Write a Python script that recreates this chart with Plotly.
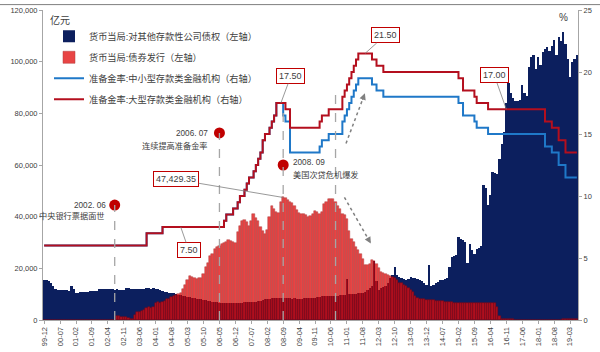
import plotly.graph_objects as go

FONT = "Liberation Sans, Noto Sans CJK SC, sans-serif"
TXT = "#404040"

# ---- categories: monthly, 1999-12 .. 2019-06 ----
months = ["99-12"]
for yy in range(2000, 2020):
    for mm in range(1, 13):
        if yy == 2019 and mm > 6:
            break
        months.append(f"{yy % 100:02d}-{mm:02d}")

tick_labels = ["99-12", "00-07", "01-02", "01-09", "02-04", "02-11", "03-06", "04-01",
               "04-08", "05-03", "05-10", "06-05", "06-12", "07-07", "08-02", "08-09",
               "09-04", "09-11", "10-06", "11-01", "11-08", "12-03", "12-10", "13-05",
               "13-12", "14-07", "15-02", "15-09", "16-04", "16-11", "17-06", "18-01",
               "18-08", "19-03"]

# 货币当局:对其他存款性公司债权 (亿元)
claims_odc = [
    15600,
    15400, 15200, 14500, 13000, 12000, 11800, 11600, 11500, 11600, 11500, 11400, 13300,  # 2000
    12000, 10300, 10400, 10800, 10900, 11000, 11000, 11100, 11100, 11200, 11300, 12000,  # 2001
    12100, 12000, 12100, 12000, 12100, 12000, 11800, 11900, 11800, 11700, 11700, 12200,  # 2002
    12200, 12000, 12100, 12000, 11900, 12000, 12100, 12000, 12300, 12200, 12100, 12300,  # 2003
    12000, 11900, 11600, 11200, 11000, 10800, 10600, 10500, 10300, 10000, 9800, 9600,    # 2004
    9300, 9200, 9000, 8800, 8600, 8500, 8300, 8100, 8000, 7800, 7600, 7400,              # 2005
    7200, 7000, 6900, 6800, 6700, 6600, 6600, 6500, 6500, 6400, 6500, 6600,              # 2006
    6600, 6700, 6700, 6800, 6800, 6900, 6900, 7000, 7100, 7300, 7500, 7800,              # 2007
    8000, 8200, 8300, 8400, 8500, 8600, 8600, 8600, 8700, 8600, 8600, 8500,              # 2008
    8300, 8400, 8300, 8200, 8300, 8400, 8500, 8400, 8500, 8600, 8700, 8800,              # 2009
    9000, 9100, 9200, 9200, 9300, 9300, 9200, 9300, 9400, 9500, 9600, 9800,              # 2010
    16000, 10200, 10000, 10100, 10200, 10300, 10500, 10600, 11000, 11500, 12500, 13000,  # 2011
    23000, 15000, 11800, 12200, 12800, 13000, 14500, 16200, 17500, 20400, 17500, 16800,  # 2012
    16200, 15800, 15600, 15800, 16600, 16400, 16200, 16000, 15600, 15200, 14500, 13700,  # 2013
    21300, 13000, 13500, 14300, 14800, 15300, 15600, 16000, 16200, 20700, 24500, 24800,  # 2014
    25100, 32000, 31500, 30800, 30200, 21900, 29500, 27000, 25700, 27600, 28000, 28500,  # 2015
    52300, 51000, 44700, 48500, 57400, 56800, 56500, 62500, 68000, 72600, 84000, 91600,  # 2016
    87800, 86000, 84700, 84700, 85300, 91000, 88000, 86600, 98000, 101800, 102400, 97300,  # 2017
    101800, 98600, 103700, 105000, 105600, 104300, 106000, 108200, 102400, 109400, 108000, 111300,  # 2018
    106800, 101100, 94200, 100000, 101100, 102400,                                      # 2019
]

# 货币当局:债券发行 (亿元)
bond_issue = [
    150,
    120, 100, 0, 0, 0, 0, 0, 0, 0, 0, 0, 0,                                              # 2000
    0, 0, 0, 0, 0, 0, 0, 0, 0, 0, 0, 0,                                                  # 2001
    0, 0, 0, 0, 0, 0, 0, 1500, 1600, 1300, 1100, 1100,                                   # 2002
    700, 500, 400, 1800, 3000, 3200, 3600, 4000, 4800, 5000, 4500, 5000,                 # 2003
    6500, 6800, 6600, 6900, 7500, 8000, 8200, 8800, 9200, 9500, 10000, 10500,            # 2004
    12000, 13500, 15600, 17100, 16500, 16200, 16000, 16300, 16200, 18000, 20400, 22000,  # 2005
    24700, 25500, 27600, 28300, 28500, 29500, 29800, 30200, 30800, 30500, 30200, 30000,  # 2006
    34000, 36500, 38400, 38700, 38000, 36500, 38500, 41000, 39500, 38400, 35900, 34500,  # 2007
    33300, 35000, 39700, 44100, 42900, 42000, 41600, 45800, 47429.35, 47100, 46400, 45800,  # 2008
    45400, 44000, 42500, 41600, 41200, 41000, 40500, 40000, 40300, 41000, 42300, 42000,  # 2009
    41000, 42000, 44800, 45500, 46700, 47000, 46800, 45500, 44100, 42900, 41000, 40500,  # 2010
    39000, 34600, 31400, 30200, 28300, 27000, 25700, 23500, 21300, 21300, 21800, 23300,  # 2011
    23000, 21800, 20000, 18700, 18100, 17800, 17500, 17000, 16600, 16200, 15300, 14500,  # 2012
    14200, 13700, 13000, 12400, 11800, 11000, 9200, 8500, 8100, 8000, 8000, 7800,        # 2013
    7800, 7700, 7600, 7500, 7400, 7300, 7200, 7100, 7000, 6900, 6800, 6700,              # 2014
    6700, 6700, 6700, 6700, 6700, 6700, 6700, 6700, 6700, 6600, 6600, 6600,              # 2015
    6600, 6600, 6500, 6500, 6500, 6400, 5000, 1500, 500, 500, 500, 500,                  # 2016
    300, 200, 100, 0, 0, 0, 0, 0, 0, 0, 0, 0,                                            # 2017
    0, 0, 0, 0, 0, 0, 0, 0, 0, 0, 0, 200,                                                # 2018
    200, 300, 400, 400, 400, 400,                                                        # 2019
]

# 准备金率 (%), step change months
rrr_large_x = ["99-12", "03-09", "04-04", "06-07", "06-08", "06-11", "07-01", "07-02", "07-04",
               "07-05", "07-06", "07-08", "07-09", "07-10", "07-11", "07-12", "08-01", "08-03",
               "08-04", "08-05", "08-06", "08-10", "08-12", "10-01", "10-02", "10-05", "10-11",
               "10-12", "11-01", "11-02", "11-03", "11-04", "11-05", "11-06", "11-12", "12-02",
               "12-05", "15-02", "15-04", "15-09", "15-10", "16-03", "18-04", "18-07", "18-10",
               "19-01", "19-06"]
rrr_large = [6, 7, 7.5, 8, 8.5, 9, 9.5, 10, 10.5, 11, 11.5, 12, 12.5, 13, 13.5, 14.5, 15, 15.5,
             16, 16.5, 17.5, 17, 15.5, 16, 16.5, 17, 18, 18.5, 19, 19.5, 20, 20.5, 21, 21.5,
             21, 20.5, 20, 19.5, 18.5, 18, 17.5, 17, 16, 15.5, 14.5, 13.5, 13.5]

rrr_small_x = ["99-12", "03-09", "04-04", "06-07", "06-08", "06-11", "07-01", "07-02", "07-04",
               "07-05", "07-06", "07-08", "07-09", "07-10", "07-11", "07-12", "08-01", "08-03",
               "08-04", "08-05", "08-06", "08-09", "08-10", "08-12", "10-01", "10-02", "10-05",
               "10-11", "10-12", "11-01", "11-02", "11-03", "11-04", "11-05", "11-06", "11-12",
               "12-02", "12-05", "15-02", "15-04", "15-09", "15-10", "16-03", "18-04", "18-07",
               "18-10", "19-01", "19-06"]
rrr_small = [6, 7, 7.5, 8, 8.5, 9, 9.5, 10, 10.5, 11, 11.5, 12, 12.5, 13, 13.5, 14.5, 15, 15.5,
             16, 16.5, 17.5, 16.5, 16, 13.5, 14, 14.5, 15, 16, 16.5, 17, 17.5, 18, 18.5, 19,
             19.5, 19, 18.5, 18, 17.5, 16.5, 16, 15.5, 15, 14, 13.5, 12.5, 11.5, 11.5]

# event markers
event_x = ["02-07", "06-05", "08-09"]
event_y = [44500, 72400, 60000]

NAVY = "#0C1F5E"
fig = go.Figure()
fig.add_trace(go.Bar(x=months, y=claims_odc, name="货币当局:对其他存款性公司债权（左轴）",
                     marker=dict(color=NAVY, line=dict(width=0)), legendgroup="a"))
fig.add_trace(go.Bar(x=months, y=bond_issue, name="货币当局:债券发行（左轴）",
                     marker=dict(color="rgb(226,10,10)", line=dict(width=0.5, color="rgb(150,0,0)")),
                     opacity=0.76, legendgroup="b"))
fig.add_trace(go.Scatter(x=rrr_small_x, y=rrr_small, yaxis="y2", mode="lines", line_shape="hv",
                         name="准备金率:中小型存款类金融机构（右轴）",
                         line=dict(color="#1F78C8", width=2), legendgroup="c"))
fig.add_trace(go.Scatter(x=rrr_large_x, y=rrr_large, yaxis="y2", mode="lines", line_shape="hv",
                         name="准备金率:大型存款类金融机构（右轴）",
                         line=dict(color="#B40F1E", width=2), legendgroup="d"))
fig.add_trace(go.Scatter(x=event_x, y=event_y, mode="markers", showlegend=False,
                         marker=dict(size=11, color="#C00000")))

shapes = []
for cx, top in [("02-07", 44500), ("06-05", 72400), ("08-09", 82100), ("10-08", 87800)]:
    shapes.append(dict(type="line", xref="x", yref="y", x0=cx, x1=cx, y0=0, y1=top,
                       line=dict(color="#A6A6A6", width=1.3, dash="dash"), layer="above"))
# dotted arrows
for (x0, y0, x1, y1) in [(132.6, 14.24, 140.9, 18.28), (131.9, 9.89, 143.5, 6.17)]:
    shapes.append(dict(type="line", xref="x", yref="y2", x0=x0, y0=y0, x1=x1, y1=y1,
                       line=dict(color="#808080", width=1.5, dash="dot")))
# top border
shapes.append(dict(type="line", xref="paper", yref="paper", x0=-43/535, x1=557/535,
                   y0=(322-0.5)/316, y1=(322-0.5)/316, line=dict(color="#7F7F7F", width=1)))

ann = []
def txt(x, y, t, xanchor, xshift=0, size=8.2, yref="y"):
    ann.append(dict(x=x, y=y, xref="x", yref=yref, text=t, showarrow=False, xanchor=xanchor,
                    yanchor="middle", xshift=xshift, font=dict(size=size, color=TXT, family=FONT)))

txt("02-07", 44500, "2002. 06", "right", -7)
txt("02-07", 40300, "中央银行票据面世", "right", -8)
txt("06-05", 72200, "2006. 07", "right", -9)
txt("06-05", 67300, "连续提高准备金率", "right", -9)
txt("08-09", 60800, "2008. 09", "left", 8)
txt("08-09", 56200, "美国次贷危机爆发", "left", 8)

def box(x, y, t, ax, ay, yref):
    ann.append(dict(x=x, y=y, xref="x", yref=yref, text=t, showarrow=True, arrowhead=0,
                    arrowwidth=0.8, arrowcolor="#7F7F7F", ax=ax, ay=ay, standoff=0,
                    bgcolor="white", bordercolor="#C00000", borderwidth=1, borderpad=2,
                    font=dict(size=9, color=TXT, family=FONT)))

box("08-08", 17.5, "17.50", 10, -27, "y2")
box("11-09", 21.5, "21.50", 20, -18, "y2")
box("16-11", 17.0, "17.00", -12, -34, "y2")
box("08-09", 47429.35, "47,429.35", -107, -18, "y")
box("04-12", 7.5, "7.50", 8, 23, "y2")

# arrowheads for dotted arrows
for (hx, hy, ax, ay) in [(140.9, 18.28, -3, 8), (143.5, 6.17, -4, -7)]:
    ann.append(dict(x=hx, y=hy, xref="x", yref="y2", text="", showarrow=True, arrowhead=2,
                    arrowsize=1, arrowwidth=1.3, arrowcolor="#808080", ax=ax, ay=ay, standoff=0))

ann.append(dict(x=(48-43)/535, y=(322-16)/316, xref="paper", yref="paper", text="亿元",
                showarrow=False, xanchor="left", yanchor="middle",
                font=dict(size=10, color=TXT, family=FONT)))
ann.append(dict(x=(563-43)/535, y=(322-14)/316, xref="paper", yref="paper", text="%",
                showarrow=False, xanchor="center", yanchor="middle",
                font=dict(size=10, color=TXT, family=FONT)))

AX = "#A6A6A6"
fig.update_layout(
    width=600, height=352,
    margin=dict(l=43, r=22, t=6, b=30),
    paper_bgcolor="white", plot_bgcolor="white",
    barmode="overlay", bargap=0,
    font=dict(family=FONT, size=8, color=TXT),
    legend=dict(x=(49-43)/535, y=(322-18)/316, xanchor="left", yanchor="top",
                bgcolor="rgba(0,0,0,0)", font=dict(size=9.2, color=TXT, family=FONT),
                itemwidth=30, tracegroupgap=2),
    xaxis=dict(type="category", tickmode="array", tickvals=tick_labels, tickangle=-90,
               tickfont=dict(size=7.5, color=TXT), showline=True, linecolor=AX, ticks="outside",
               ticklen=3, tickcolor=AX, showgrid=False, range=[-0.5, len(months) - 0.5],
               zeroline=False),
    yaxis=dict(range=[0, 120000], tickvals=[0, 20000, 40000, 60000, 80000, 100000, 120000],
               tickformat=",d", tickfont=dict(size=7.5, color=TXT), showline=True, linecolor=AX,
               ticks="outside", ticklen=3, tickcolor=AX, showgrid=False, zeroline=False),
    yaxis2=dict(range=[0, 25], tickvals=[0, 5, 10, 15, 20, 25], overlaying="y", side="right",
                tickfont=dict(size=7.5, color=TXT), showline=True, linecolor=AX,
                ticks="outside", ticklen=3, tickcolor=AX, showgrid=False, zeroline=False),
    shapes=shapes, annotations=ann,
)

fig.write_html("out.html")
